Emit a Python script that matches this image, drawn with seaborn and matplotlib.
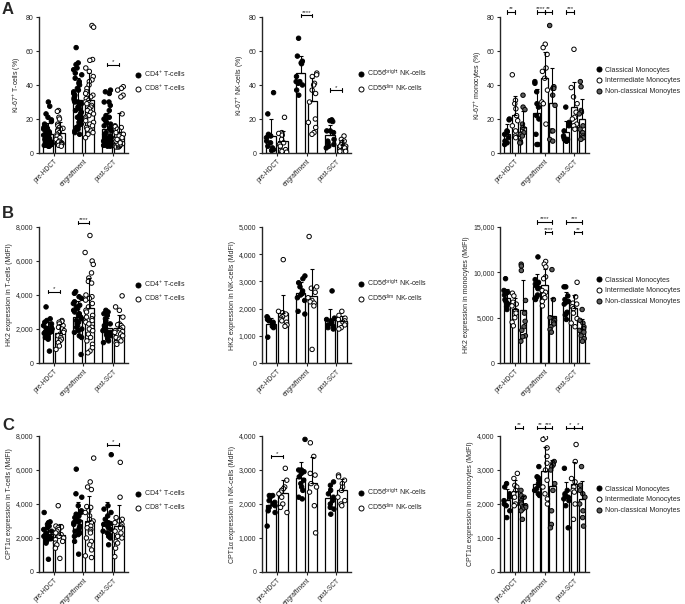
import numpy as np
import pandas as pd
import matplotlib
matplotlib.use("Agg")
import matplotlib.pyplot as plt
import seaborn as sns
from matplotlib.ticker import StrMethodFormatter
from matplotlib.lines import Line2D
import warnings
warnings.filterwarnings("ignore")

np.random.seed(3)
sns.set_theme(style="ticks")
plt.rcParams['font.family'] = ['Liberation Sans', 'DejaVu Sans']
plt.rcParams['mathtext.fontset'] = 'custom'
plt.rcParams['mathtext.rm'] = 'Liberation Sans'
plt.rcParams['mathtext.it'] = 'Liberation Sans:italic'
plt.rcParams['mathtext.bf'] = 'Liberation Sans:bold'

timepoints = ["pre-HDCT", "engraftment", "post-SCT"]
t_labels = [r"CD4$^{+}$ T-cells", r"CD8$^{+}$ T-cells"]
nk_labels = [r"CD56$^{\mathrm{bright}}$ NK-cells", r"CD56$^{\mathrm{dim}}$ NK-cells"]
mono_labels = ["Classical Monocytes", "Intermediate Monocytes", "Non-classical Monoytes"]

# ---------------- A: Ki-67 ----------------
A1_CD4 = [
    [30, 27.5, 23, 21, 19.5, 18.5, 17, 16, 15, 14.5, 14, 13, 12.5, 12, 11.5, 11, 10.5, 10, 10, 9.5,
     9, 8.5, 8, 8, 7.5, 7, 7, 6.5, 6, 6, 5.5, 5.5, 5, 5, 4.5, 4.5, 4, 4],
    [62, 53, 52, 50, 49, 47, 46, 44, 42, 41, 40, 38, 37, 36, 35, 34, 33, 32, 31, 30,
     30, 29, 28, 27, 26, 25, 24, 23, 22, 21, 20, 19, 18, 17, 16, 15, 14, 13, 12, 11],
    [37, 36, 35, 30, 30, 28, 25, 22, 21, 20, 19, 18, 17, 16, 15, 14, 13, 12, 11, 10,
     10, 9, 9, 8, 8, 7, 7, 7, 6, 6, 6, 5, 5, 5, 4.5, 4.5, 4, 4, 4.5, 5],
]
A1_CD8 = [
    [25, 24.5, 21, 20, 17, 16, 15, 14.5, 14, 13.5, 13, 12, 11, 10, 9, 8, 7, 6.5, 6, 5.5, 5, 5, 4.5, 4],
    [75, 74, 55, 54.5, 50, 48, 45, 43, 42, 40, 38, 36, 35, 34, 33, 32, 31, 30, 29, 28,
     27, 26, 25, 24, 23, 22, 21, 20, 19, 18, 17, 16, 15, 14, 13, 12, 11, 9],
    [39, 38, 37, 34, 33, 23, 16, 15.5, 15, 14, 13, 12, 11, 10, 9, 8, 7, 6, 5.5, 5,
     5, 4.5, 4, 4, 3.5, 3.5, 4, 4.5, 5, 5.5, 6, 7, 8],
]
A2_bright = [
    [35.5, 23, 11, 10.5, 10, 9, 7, 6, 4, 3, 2, 1.5],
    [67.5, 57, 54, 53, 52.5, 45, 42, 42, 41, 40, 37, 34],
    [19.5, 19, 18.5, 13, 13, 12, 8, 7, 6, 5, 4, 3],
]
A2_dim = [
    [21, 12, 11.5, 10.5, 8, 6, 5, 4, 2, 1.5, 1, 0.5],
    [47, 46, 45, 41, 40, 37, 35, 30, 20, 18, 15, 12, 11],
    [10, 8, 7, 6, 5, 5, 4, 4, 3, 3, 1, 1],
]
A3_classical = [
    [20, 19.5, 13, 12.5, 11, 9, 7, 6, 5],
    [42, 41, 36, 29, 27, 22, 20, 11, 5, 5],
    [27, 18, 16, 13, 10, 9, 8, 8, 7, 7],
]
A3_intermediate = [
    [46, 31, 29, 26, 22, 19, 16, 13, 10, 9],
    [64, 62, 58, 50, 48, 44, 37, 30, 29, 17],
    [61, 38.5, 33, 29, 24, 21, 20, 17, 16, 14],
]
A3_nonclassical = [
    [34, 27, 25.5, 17, 15, 12, 11, 10, 7, 6, 6],
    [75, 39, 38, 38, 34, 28, 13, 13, 8, 7],
    [42, 39, 25, 24, 23, 16, 14, 12, 10, 9, 8],
]

# ---------------- B: HK2 ----------------
B1_CD4 = [
    [3300, 2600, 2500, 2400, 2300, 2200, 2100, 2050, 2000, 2000, 1950, 1900, 1900, 1850, 1800,
     1800, 1750, 1700, 1650, 1600, 1550, 1500, 1450, 1400, 700],
    [4200, 4100, 3900, 3800, 3600, 3500, 3400, 3300, 3200, 3100, 3000, 2900, 2800, 2700, 2600,
     2500, 2400, 2300, 2200, 2100, 2000, 1900, 1800, 1600, 1500, 500],
    [3100, 3000, 2900, 2800, 2600, 2500, 2400, 2300, 2200, 2100, 2000, 1900, 1850, 1800, 1750,
     1700, 1650, 1600, 1500, 1400, 1300, 1200],
]
B1_CD8 = [
    [2500, 2450, 2400, 2300, 2200, 2100, 2000, 1900, 1800, 1700, 1600, 1500, 1400, 1300, 1200, 1000, 800],
    [7500, 6500, 6000, 5800, 5300, 5000, 4800, 4700, 4000, 3900, 3800, 3700, 3500, 3300, 3100, 3000,
     2800, 2700, 2600, 2500, 2400, 2300, 2100, 2000, 1900, 1700, 1500, 1300, 1100, 900, 700, 600],
    [3950, 3300, 3100, 2700, 2300, 2250, 2200, 2100, 2000, 1900, 1850, 1800, 1700, 1600, 1500,
     1400, 1300, 1200, 1100],
]
B2_bright = [
    [1700, 1650, 1600, 1550, 1500, 1450, 1400, 1350, 1300, 950],
    [3200, 3100, 2950, 2800, 2650, 2600, 2550, 2500, 2400, 2300, 1900, 1800],
    [2650, 1650, 1600, 1550, 1500, 1450, 1400, 1350, 1300, 1250],
]
B2_dim = [
    [3800, 1900, 1850, 1800, 1700, 1650, 1600, 1550, 1500, 1400, 1350],
    [4650, 2800, 2750, 2600, 2400, 2300, 2250, 2200, 2100, 500],
    [1900, 1750, 1650, 1600, 1550, 1500, 1450, 1400, 1300, 1250],
]
B3_classical = [
    [9300, 8000, 7800, 7500, 7000, 6900, 6700, 6500, 6200, 5900],
    [11700, 9200, 8900, 8800, 8700, 8500, 8200, 7500, 7300, 7100, 7000],
    [8400, 8400, 7400, 7000, 6800, 6700, 6500, 5600, 5400, 5300, 4800],
]
B3_intermediate = [
    [7700, 7400, 6700, 6500, 6300, 5800, 5500, 5000, 4500, 4100],
    [11200, 10900, 10600, 9500, 9300, 8000, 7800, 7500, 7200, 6800, 6300],
    [8900, 7300, 6600, 6500, 6200, 6000, 5500, 4900, 4400, 4000],
]
B3_nonclassical = [
    [10900, 10700, 10200, 6900, 5500, 4600, 4000, 3600, 3000, 2900, 2400],
    [10300, 7000, 5000, 4800, 4700, 4500, 4300, 4000, 3700, 3400],
    [5900, 4700, 4400, 4000, 3800, 3600, 3400, 3000, 2700, 2400],
]

# ---------------- C: CPT1a ----------------
C1_CD4 = [
    [3500, 2950, 2900, 2800, 2700, 2600, 2500, 2400, 2300, 2200, 2100, 2050, 2000, 2000, 1950,
     1900, 1850, 1800, 1700, 750],
    [6050, 4600, 4400, 3900, 3600, 3500, 3400, 3300, 3200, 3100, 3000, 2950, 2900, 2800, 2700,
     2600, 2500, 2400, 2300, 2200, 2100, 1800, 1050],
    [6900, 3900, 3700, 3500, 3300, 3100, 2900, 2850, 2800, 2700, 2600, 2500, 2400, 2300, 2200,
     2100, 2000, 1600],
]
C1_CD8 = [
    [3900, 2700, 2650, 2600, 2500, 2400, 2300, 2200, 2100, 2000, 1900, 1800, 1700, 1600, 1400, 800],
    [6700, 5300, 5000, 4850, 3850, 3800, 3600, 3500, 3300, 3100, 3000, 2900, 2800, 2700, 2600,
     2500, 2400, 2300, 2000, 1800, 1600, 1300, 950, 850],
    [6450, 4400, 3200, 3100, 3000, 2900, 2800, 2700, 2600, 2400, 2300, 2100, 2000, 1800, 1700, 1400, 900],
]
C2_bright = [
    [2250, 2250, 2200, 2100, 2050, 2000, 1950, 1900, 1800, 1750, 1350],
    [3900, 3000, 3000, 2950, 2900, 2800, 2700, 2600, 2500, 2400, 2200, 2150],
    [2650, 2550, 2400, 2300, 2200, 2100, 2000, 1900, 1850, 1700],
]
C2_dim = [
    [3050, 2700, 2500, 2450, 2400, 2350, 2300, 2200, 2000, 1900, 1750],
    [3800, 3400, 2900, 2850, 2600, 2500, 2350, 1950, 1150],
    [2850, 2800, 2700, 2600, 2500, 2400, 2200, 2100, 2000, 1950],
]
C3_classical = [
    [2600, 2500, 2300, 2200, 2100, 2000, 1950, 1800, 1600],
    [3100, 2800, 2750, 2700, 2600, 2550, 2450, 2400, 2300, 2250],
    [3050, 2400, 2300, 2250, 2200, 2150, 2100, 1950, 1300],
]
C3_intermediate = [
    [2900, 2750, 2550, 2500, 2400, 2300, 2200, 2000, 1950],
    [3950, 3900, 3650, 3400, 3200, 3000, 2700, 2500, 2300, 2150, 2000],
    [3750, 3250, 2750, 2650, 2500, 2400, 2350, 2000, 1550],
]
C3_nonclassical = [
    [2400, 2250, 2200, 2100, 2050, 2000, 1950, 1900, 1850, 1800, 1550],
    [3250, 3200, 3150, 3100, 3000, 2600, 2400, 1800, 1400, 1300],
    [3100, 2550, 2400, 2300, 2200, 2000, 1800, 1600, 1350],
]

# significance: (timepoint index, group a, group b, level, stars)
A1_sig = [(2, 0, 1, 52, "*")]
A2_sig = [(1, 0, 1, 81, "****"), (2, 0, 1, 37, "*")]
A3_sig = [(0, 0, 1, 83, "**"), (1, 0, 1, 83, "****"), (1, 1, 2, 83, "**"), (2, 0, 1, 83, "***")]
B1_sig = [(0, 0, 1, 4200, "*"), (1, 0, 1, 8250, "****")]
B2_sig = []
B3_sig = [(1, 0, 2, 15550, "****"), (1, 1, 2, 14400, "****"),
          (2, 0, 2, 15550, "***"), (2, 1, 2, 14400, "**")]
C1_sig = [(2, 0, 1, 7500, "*")]
C2_sig = [(0, 0, 1, 3400, "*")]
C3_sig = [(0, 1, 2, 4250, "**"), (1, 0, 1, 4250, "**"), (1, 1, 2, 4250, "***"),
          (2, 0, 1, 4250, "*"), (2, 1, 2, 4250, "*")]

FILL2 = ["black", "white"]
FILL3 = ["black", "white", "#5c5c5c"]
W = 0.8
FS = 5.0


def xpos(i, k, n):
    return i - W / 2 + W / (2 * n) + k * W / n


def panel(ax, groups, labels, fills, ylabel, ymax, ystep, sig):
    n = len(groups)
    keys = [f"g{k}" for k in range(n)]
    rows = []
    for key, series in zip(keys, groups):
        for tp, vals in zip(timepoints, series):
            for v in vals:
                rows.append((tp, key, v))
    df = pd.DataFrame(rows, columns=["tp", "grp", "val"])
    sns.barplot(data=df, x="tp", y="val", hue="grp", order=timepoints, hue_order=keys,
                palette={k: "white" for k in keys}, errorbar=None, width=W, gap=0.2,
                edgecolor="black", linewidth=0.9, legend=False, ax=ax, zorder=1)
    sns.stripplot(data=df, x="tp", y="val", hue="grp", order=timepoints, hue_order=keys,
                  dodge=True, jitter=0.3 if n == 2 else 0.3, palette=dict(zip(keys, fills)),
                  edgecolor="black", linewidth=0.7, size=3.2, legend=False, ax=ax, zorder=3)
    stats = df.groupby(["tp", "grp"])["val"].agg(["mean", "std"])
    for i, tp in enumerate(timepoints):
        for k, key in enumerate(keys):
            m, s = stats.loc[(tp, key)]
            ax.errorbar(xpos(i, k, n), m, yerr=[[0], [s]], fmt="none", ecolor="black",
                        elinewidth=0.8, capsize=1.6, capthick=0.8, zorder=4)
    d = ymax * 0.012
    for (i, a, b, y, lab) in sig:
        xa, xb = xpos(i, a, n), xpos(i, b, n)
        ax.plot([xa, xb], [y, y], color="black", lw=0.8, clip_on=False, zorder=5)
        ax.plot([xa, xa], [y - d, y + d], color="black", lw=0.8, clip_on=False, zorder=5)
        ax.plot([xb, xb], [y - d, y + d], color="black", lw=0.8, clip_on=False, zorder=5)
        ax.text((xa + xb) / 2, y + d * 0.3, lab, ha="center", va="bottom", fontsize=4.5)
    ax.set_ylim(0, ymax)
    ax.set_xlim(-0.5, 2.5)
    ax.set_yticks(np.arange(0, ymax + 1, ystep))
    ax.yaxis.set_major_formatter(StrMethodFormatter("{x:,.0f}"))
    ax.set_xticks(range(3))
    ax.set_xticklabels(timepoints, rotation=45, ha="right", rotation_mode="anchor", fontsize=4.8)
    ax.tick_params(axis="y", labelsize=FS, length=2.5, width=0.8, pad=1.5)
    ax.tick_params(axis="x", length=2.5, width=0.8, pad=1.0)
    ax.set_xlabel("")
    ax.set_ylabel(ylabel, fontsize=FS, labelpad=2)
    sns.despine(ax=ax)
    for sp in ("left", "bottom"):
        ax.spines[sp].set_linewidth(1.0)
    handles = [Line2D([], [], ls="", marker="o", markerfacecolor=f, markeredgecolor="black",
                      markeredgewidth=0.7, markersize=3.6) for f in fills]
    ax.legend(handles, labels, loc="center left", bbox_to_anchor=(1.04, 0.53), frameon=False,
              fontsize=FS, handletextpad=0.4, labelspacing=0.55, borderaxespad=0,
              handlelength=1.0)


fig = plt.figure(figsize=(6.85, 6.04), dpi=100)
lefts = [39 / 685, 262 / 685, 500 / 685]
bottoms = [(604 - 153) / 604, (604 - 363) / 604, (604 - 572) / 604]
w_ax = 89 / 685
h_ax = 136 / 604
axes = [[fig.add_axes([l, b, w_ax, h_ax]) for l in lefts] for b in bottoms]

panel(axes[0][0], [A1_CD4, A1_CD8], t_labels, FILL2, r"Ki-67$^{+}$ T-cells (%)", 80, 20, A1_sig)
panel(axes[0][1], [A2_bright, A2_dim], nk_labels, FILL2, r"Ki-67$^{+}$ NK-cells (%)", 80, 20, A2_sig)
panel(axes[0][2], [A3_classical, A3_intermediate, A3_nonclassical], mono_labels, FILL3,
      r"Ki-67$^{+}$ monocytes (%)", 80, 20, A3_sig)
panel(axes[1][0], [B1_CD4, B1_CD8], t_labels, FILL2, "HK2 expression in T-cells (MdFI)", 8000, 2000, B1_sig)
panel(axes[1][1], [B2_bright, B2_dim], nk_labels, FILL2, "HK2 expression in NK-cells (MdFI)", 5000, 1000, B2_sig)
panel(axes[1][2], [B3_classical, B3_intermediate, B3_nonclassical], mono_labels, FILL3,
      "HK2 expression in monocytes (MdFI)", 15000, 5000, B3_sig)
panel(axes[2][0], [C1_CD4, C1_CD8], t_labels, FILL2, "CPT1α expression in T-cells (MdFI)", 8000, 2000, C1_sig)
panel(axes[2][1], [C2_bright, C2_dim], nk_labels, FILL2, "CPT1α expression in NK-cells (MdFI)", 4000, 1000, C2_sig)
panel(axes[2][2], [C3_classical, C3_intermediate, C3_nonclassical], mono_labels, FILL3,
      "CPT1α expression in monocytes (MdFI)", 4000, 1000, C3_sig)

for letter, ypix in (("A", 2), ("B", 206), ("C", 418)):
    fig.text(2 / 685, 1 - ypix / 604, letter, fontsize=12, fontweight="bold", va="top", ha="left")

fig.savefig("out.png", dpi=100)
